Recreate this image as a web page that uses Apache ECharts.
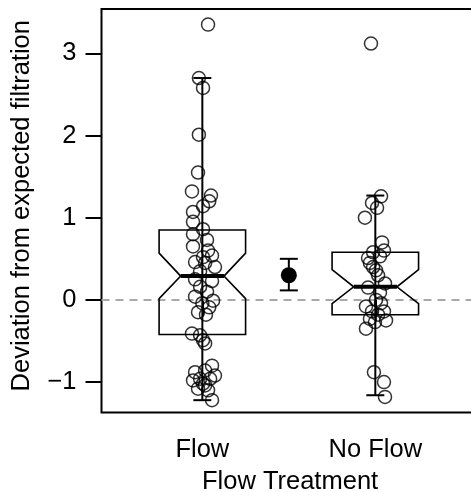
<!DOCTYPE html>
<html><head><meta charset="utf-8">
<script src="https://cdn.jsdelivr.net/npm/echarts@6/dist/echarts.min.js"></script>
<style>html,body{margin:0;padding:0;background:#fff}#c{width:471px;height:492px}</style>
</head><body><div id="c"></div>
<script>
const categories = ['Flow', 'No Flow'];
const yTicks = [-1, 0, 1, 2, 3];
// box stats: [lowerWhisker, q1, notchLow, median, notchHigh, q3, upperWhisker]
const flowStats = [-1.22, -0.42, 0.015, 0.29, 0.57, 0.85, 2.70];
const noFlowStats = [-1.16, -0.18, -0.046, 0.16, 0.37, 0.58, 1.27];
// mean with error: [mean, low, high] at x = 1.5
const meanPoint = [0.30, 0.116, 0.50];
const flowValues = [3.35, 2.70, 2.58, 2.01, 1.55, 1.32, 1.27, 1.20, 1.14, 1.07, 0.95, 0.86, 0.80, 0.73, 0.65, 0.60, 0.52, 0.54, 0.46, 0.40, 0.45, 0.35, 0.25, 0.23, 0.16, 0.10, 0.04, -0.01, -0.04, -0.09, -0.15, -0.18, -0.41, -0.43, -0.49, -0.53, -0.80, -0.88, -0.86, -0.96, -0.98, -0.96, -1.02, -0.92, -1.08, -1.10, -1.22, -1.04];
const flowJitter = [0.033, -0.02, 0.004, -0.02, -0.025, -0.06, 0.05, 0.04, 0.004, -0.054, -0.054, 0.004, -0.054, 0.027, -0.054, 0.033, 0.004, 0.056, -0.042, 0.073, 0.016, -0.013, -0.042, 0.056, -0.013, 0.027, -0.042, 0.062, 0, 0.04, -0.025, 0.021, -0.06, -0.013, 0.004, 0.016, 0.056, -0.042, 0.016, -0.013, -0.054, 0.045, 0.004, 0.073, -0.025, 0.033, 0.056, 0.016];
const noFlowValues = [3.12, 1.26, 1.18, 1.12, 1.0, 0.70, 0.60, 0.53, 0.58, 0.51, 0.45, 0.40, 0.36, 0.30, 0.15, 0.20, 0.09, 0.0, -0.04, -0.08, -0.14, -0.18, -0.14, -0.23, -0.27, -0.25, -0.35, -0.88, -1.0, -1.18];
const noFlowJitter = [-0.025, 0.033, -0.019, 0.01, -0.06, 0.039, 0.05, 0.027, -0.013, -0.042, -0.031, -0.013, 0.004, 0.016, -0.042, 0.056, 0.027, 0.004, 0.033, -0.054, -0.019, 0.016, 0.05, -0.031, -0.002, 0.062, -0.054, -0.008, 0.05, 0.056];

const FONT = 'Liberation Sans';
const chart = echarts.init(document.getElementById('c'), null, {renderer: 'canvas'});

const points = [];
flowValues.forEach((v, i) => points.push([1 + flowJitter[i], v]));
noFlowValues.forEach((v, i) => points.push([2 + noFlowJitter[i], v]));

const boxData = [[1].concat(flowStats), [2].concat(noFlowStats)];
const BW = 0.25, NW = 0.125, CAP = 9;
const XMIN = 0.417, XMAX = 2.663;

function renderBox(params, api) {
  const x = api.value(0);
  const lw = api.value(1), q1 = api.value(2), nl = api.value(3), md = api.value(4), nh = api.value(5), q3 = api.value(6), uw = api.value(7);
  const c = (a, b) => api.coord([a, b]);
  const poly = [c(x - BW, q3), c(x + BW, q3), c(x + BW, nh), c(x + NW, md), c(x + BW, nl), c(x + BW, q1),
                c(x - BW, q1), c(x - BW, nl), c(x - NW, md), c(x - BW, nh)];
  const top = c(x, uw), bot = c(x, lw);
  const mL = c(x - NW, md), mR = c(x + NW, md);
  return {type: 'group', children: [
    {type: 'polygon', shape: {points: poly}, style: {fill: 'none', stroke: '#000', lineWidth: 1.6}},
    {type: 'line', shape: {x1: top[0], y1: top[1], x2: bot[0], y2: bot[1]}, style: {stroke: '#000', lineWidth: 2}},
    {type: 'line', shape: {x1: top[0] - CAP, y1: top[1], x2: top[0] + CAP, y2: top[1]}, style: {stroke: '#000', lineWidth: 2}},
    {type: 'line', shape: {x1: bot[0] - CAP, y1: bot[1], x2: bot[0] + CAP, y2: bot[1]}, style: {stroke: '#000', lineWidth: 2}},
    {type: 'line', shape: {x1: mL[0], y1: mL[1], x2: mR[0], y2: mR[1]}, style: {stroke: '#000', lineWidth: 4}}
  ]};
}

function renderMean(params, api) {
  const x = api.value(0);
  const m = api.coord([x, api.value(1)]), lo = api.coord([x, api.value(2)]), hi = api.coord([x, api.value(3)]);
  return {type: 'group', children: [
    {type: 'line', shape: {x1: lo[0], y1: lo[1], x2: hi[0], y2: hi[1]}, style: {stroke: '#000', lineWidth: 2}},
    {type: 'line', shape: {x1: lo[0] - CAP, y1: lo[1], x2: lo[0] + CAP, y2: lo[1]}, style: {stroke: '#000', lineWidth: 2}},
    {type: 'line', shape: {x1: hi[0] - CAP, y1: hi[1], x2: hi[0] + CAP, y2: hi[1]}, style: {stroke: '#000', lineWidth: 2}},
    {type: 'circle', shape: {cx: m[0], cy: m[1], r: 8}, style: {fill: '#000'}}
  ]};
}

chart.setOption({
  animation: false,
  backgroundColor: '#fff',
  grid: {left: 101.5, top: 9, width: 388.5, height: 403.5, outerBoundsMode: 'none', containLabel: false,
         show: true, borderColor: '#000', borderWidth: 2, backgroundColor: 'transparent'},
  xAxis: {
    type: 'value', min: XMIN, max: XMAX,
    axisLine: {show: false}, splitLine: {show: false},
    axisTick: {show: true, customValues: [1, 2], length: 16, lineStyle: {color: '#000', width: 2}},
    axisLabel: {customValues: [1, 2], formatter: v => categories[Math.round(v) - 1], color: '#000', fontFamily: FONT, fontSize: 25.5, margin: 24},
    name: 'Flow Treatment', nameLocation: 'middle', nameGap: 56,
    nameTextStyle: {color: '#000', fontFamily: FONT, fontSize: 25.5, padding: [0, 11.4, 0, 0]}
  },
  yAxis: {
    type: 'value', min: -1.37, max: 3.54,
    axisLine: {show: false}, splitLine: {show: false},
    axisTick: {show: true, customValues: yTicks, length: 16, lineStyle: {color: '#000', width: 2}},
    axisLabel: {customValues: yTicks, formatter: v => (v < 0 ? '\u2212' + Math.abs(v) : String(v)), color: '#000', fontFamily: FONT, fontSize: 25.5, margin: 25},
    name: 'Deviation from expected filtration', nameLocation: 'middle', nameGap: 67,
    nameTextStyle: {color: '#000', fontFamily: FONT, fontSize: 25.5, padding: [0, 0, 0, 10]}
  },
  series: [
    {type: 'line', data: [[XMIN, 0], [XMAX, 0]], symbol: 'none', silent: true, z: 1,
     lineStyle: {color: '#a8a8a8', width: 2, type: [8, 6]}},
    {type: 'scatter', data: points, symbol: 'circle', symbolSize: 13, z: 2,
     itemStyle: {color: 'rgba(0,0,0,0)', borderColor: '#000', borderWidth: 1.5}},
    {type: 'custom', data: boxData, renderItem: renderBox, z: 3},
    {type: 'custom', data: [[1.5].concat(meanPoint)], renderItem: renderMean, z: 3}
  ]
});
</script></body></html>
